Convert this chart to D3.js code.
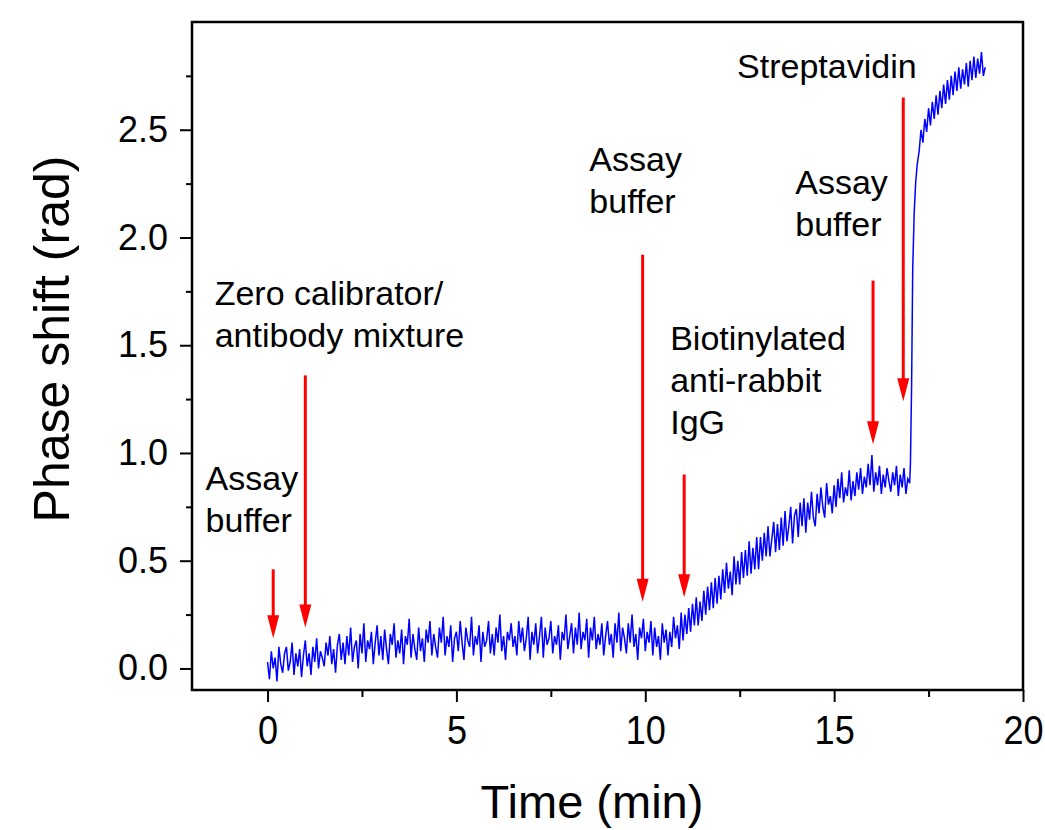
<!DOCTYPE html>
<html>
<head>
<meta charset="utf-8">
<script src="https://cdn.jsdelivr.net/npm/d3@7"></script>
<style>
  body { margin: 0; background: #fff; }
  text { font-family: "Liberation Sans", Arial, sans-serif; fill: #000; }
</style>
</head>
<body>
<div id="chart"></div>
<script>
const width = 1045
const height = 830
const margin = { left: 192, right: 22, top: 22, bottom: 140 }

// trace (time in min, phase in rad)
const time = [
  0.00, 0.05, 0.10, 0.15, 0.20, 0.25, 0.30, 0.35, 0.40, 0.45,
  0.50, 0.55, 0.60, 0.65, 0.70, 0.75, 0.80, 0.85, 0.90, 0.95,
  1.00, 1.05, 1.10, 1.15, 1.20, 1.25, 1.30, 1.35, 1.40, 1.45,
  1.50, 1.55, 1.60, 1.65, 1.70, 1.75, 1.80, 1.85, 1.90, 1.95,
  2.00, 2.05, 2.10, 2.15, 2.20, 2.25, 2.30, 2.35, 2.40, 2.45,
  2.50, 2.55, 2.60, 2.65, 2.70, 2.75, 2.80, 2.85, 2.90, 2.95,
  3.00, 3.05, 3.10, 3.15, 3.20, 3.25, 3.30, 3.35, 3.40, 3.45,
  3.50, 3.55, 3.60, 3.65, 3.70, 3.75, 3.80, 3.85, 3.90, 3.95,
  4.00, 4.05, 4.10, 4.15, 4.20, 4.25, 4.30, 4.35, 4.40, 4.45,
  4.50, 4.55, 4.60, 4.65, 4.70, 4.75, 4.80, 4.85, 4.90, 4.95,
  5.00, 5.05, 5.10, 5.15, 5.20, 5.25, 5.30, 5.35, 5.40, 5.45,
  5.50, 5.55, 5.60, 5.65, 5.70, 5.75, 5.80, 5.85, 5.90, 5.95,
  6.00, 6.05, 6.10, 6.15, 6.20, 6.25, 6.30, 6.35, 6.40, 6.45,
  6.50, 6.55, 6.60, 6.65, 6.70, 6.75, 6.80, 6.85, 6.90, 6.95,
  7.00, 7.05, 7.10, 7.15, 7.20, 7.25, 7.30, 7.35, 7.40, 7.45,
  7.50, 7.55, 7.60, 7.65, 7.70, 7.75, 7.80, 7.85, 7.90, 7.95,
  8.00, 8.05, 8.10, 8.15, 8.20, 8.25, 8.30, 8.35, 8.40, 8.45,
  8.50, 8.55, 8.60, 8.65, 8.70, 8.75, 8.80, 8.85, 8.90, 8.95,
  9.00, 9.05, 9.10, 9.15, 9.20, 9.25, 9.30, 9.35, 9.40, 9.45,
  9.50, 9.55, 9.60, 9.65, 9.70, 9.75, 9.80, 9.85, 9.90, 9.95,
  10.00, 10.05, 10.10, 10.15, 10.20, 10.25, 10.30, 10.35, 10.40, 10.45,
  10.50, 10.55, 10.60, 10.65, 10.70, 10.75, 10.80, 10.85, 10.90, 10.95,
  11.00, 11.05, 11.10, 11.15, 11.20, 11.25, 11.30, 11.35, 11.40, 11.45,
  11.50, 11.55, 11.60, 11.65, 11.70, 11.75, 11.80, 11.85, 11.90, 11.95,
  12.00, 12.05, 12.10, 12.15, 12.20, 12.25, 12.30, 12.35, 12.40, 12.45,
  12.50, 12.55, 12.60, 12.65, 12.70, 12.75, 12.80, 12.85, 12.90, 12.95,
  13.00, 13.05, 13.10, 13.15, 13.20, 13.25, 13.30, 13.35, 13.40, 13.45,
  13.50, 13.55, 13.60, 13.65, 13.70, 13.75, 13.80, 13.85, 13.90, 13.95,
  14.00, 14.05, 14.10, 14.15, 14.20, 14.25, 14.30, 14.35, 14.40, 14.45,
  14.50, 14.55, 14.60, 14.65, 14.70, 14.75, 14.80, 14.85, 14.90, 14.95,
  15.00, 15.05, 15.10, 15.15, 15.20, 15.25, 15.30, 15.35, 15.40, 15.45,
  15.50, 15.55, 15.60, 15.65, 15.70, 15.75, 15.80, 15.85, 15.90, 15.95,
  16.00, 16.05, 16.10, 16.15, 16.20, 16.25, 16.30, 16.35, 16.40, 16.45,
  16.50, 16.55, 16.60, 16.65, 16.70, 16.75, 16.80, 16.85, 16.90, 16.95,
  17.00, 17.02, 17.05, 17.08, 17.12, 17.16, 17.20, 17.25,
  17.30, 17.35, 17.40, 17.45, 17.50, 17.55, 17.60, 17.65, 17.70, 17.75,
  17.80, 17.85, 17.90, 17.95,
  18.00, 18.05, 18.10, 18.15, 18.20, 18.25, 18.30, 18.35, 18.40, 18.45,
  18.50, 18.55, 18.60, 18.65, 18.70, 18.75, 18.80, 18.85, 18.90, 18.95,
  19.00
]
const phase = [
  0.03, -0.05, 0.08, 0.00, 0.05, -0.06, 0.10, 0.02, -0.02, 0.07,
  0.10, -0.01, 0.03, 0.12, -0.03, 0.07, 0.01, 0.09, -0.04, 0.06,
  0.13, 0.01, 0.07, -0.03, 0.10, 0.03, 0.14, 0.00, 0.08, 0.05,
  0.01, 0.12, 0.06, 0.15, 0.02, 0.09, -0.02, 0.11, 0.16, 0.04,
  0.12, 0.02, 0.15, 0.06, 0.19, 0.03, 0.10, 0.13, 0.00, 0.16,
  0.07, 0.21, 0.03, 0.13, 0.09, 0.17, 0.02, 0.12, 0.20, 0.06,
  0.15, 0.04, 0.18, 0.09, 0.02, 0.16, 0.11, 0.21, 0.05, 0.13,
  0.07, 0.18, 0.02, 0.15, 0.11, 0.23, 0.05, 0.16, 0.09, 0.04,
  0.19, 0.08, 0.14, 0.03, 0.18, 0.12, 0.22, 0.06, 0.16, 0.10,
  0.05, 0.19, 0.12, 0.24, 0.06, 0.15, 0.10, 0.20, 0.03, 0.14,
  0.17, 0.08, 0.22, 0.12, 0.04, 0.19, 0.13, 0.10, 0.24, 0.06,
  0.15, 0.11, 0.20, 0.03, 0.17, 0.10, 0.13, 0.22, 0.07, 0.16,
  0.06, 0.19, 0.12, 0.25, 0.08, 0.15, 0.04, 0.17, 0.13, 0.21,
  0.10, 0.15, 0.06, 0.22, 0.12, 0.19, 0.08, 0.14, 0.24, 0.04,
  0.17, 0.11, 0.21, 0.07, 0.15, 0.24, 0.05, 0.19, 0.11, 0.14,
  0.22, 0.07, 0.15, 0.11, 0.20, 0.04, 0.17, 0.13, 0.25, 0.09,
  0.15, 0.21, 0.07, 0.19, 0.11, 0.26, 0.09, 0.17, 0.13, 0.23,
  0.05, 0.19, 0.13, 0.24, 0.09, 0.16, 0.11, 0.21, 0.06, 0.15,
  0.22, 0.11, 0.16, 0.05, 0.21, 0.12, 0.26, 0.08, 0.19, 0.14,
  0.07, 0.21, 0.12, 0.25, 0.10, 0.16, 0.04, 0.19, 0.14, 0.23,
  0.08, 0.17, 0.12, 0.22, 0.06, 0.19, 0.10, 0.15, 0.04, 0.21,
  0.12, 0.18, 0.06, 0.17, 0.10, 0.24, 0.14, 0.20, 0.09, 0.26,
  0.13, 0.25, 0.16, 0.28, 0.17, 0.30, 0.20, 0.33, 0.20, 0.31,
  0.22, 0.36, 0.25, 0.38, 0.27, 0.40, 0.28, 0.42, 0.30, 0.43,
  0.32, 0.46, 0.35, 0.49, 0.37, 0.45, 0.34, 0.52, 0.39, 0.50,
  0.39, 0.54, 0.42, 0.55, 0.43, 0.59, 0.44, 0.56, 0.46, 0.61,
  0.46, 0.61, 0.50, 0.63, 0.52, 0.66, 0.52, 0.60, 0.68, 0.54,
  0.67, 0.55, 0.70, 0.57, 0.73, 0.59, 0.66, 0.75, 0.58, 0.71,
  0.74, 0.61, 0.77, 0.66, 0.79, 0.63, 0.77, 0.69, 0.82, 0.70,
  0.66, 0.81, 0.72, 0.84, 0.75, 0.70, 0.86, 0.76, 0.80, 0.72,
  0.85, 0.75, 0.88, 0.79, 0.91, 0.77, 0.84, 0.80, 0.92, 0.78,
  0.87, 0.80, 0.91, 0.83, 0.93, 0.81, 0.89, 0.84, 0.95, 0.85,
  0.99, 0.82, 0.91, 0.85, 0.94, 0.81, 0.90, 0.84, 0.93, 0.87,
  0.82, 0.91, 0.85, 0.94, 0.80, 0.90, 0.84, 0.93, 0.81, 0.88,
  0.86, 0.95, 1.30, 1.85, 2.12, 2.26, 2.34, 2.40,
  2.50, 2.44, 2.55, 2.49, 2.60, 2.52, 2.63, 2.55, 2.66, 2.57,
  2.68, 2.60, 2.71, 2.62,
  2.73, 2.64, 2.75, 2.66, 2.77, 2.68, 2.79, 2.69, 2.78, 2.71,
  2.81, 2.70, 2.82, 2.73, 2.84, 2.74, 2.83, 2.76, 2.86, 2.75,
  2.79
]

// injection arrows: time, top of shaft, tip (rad)
const arrowTime = [0.15, 1.0, 9.93, 11.03, 16.03, 16.83]
const arrowTop = [0.46, 1.36, 1.92, 0.90, 1.80, 2.65]
const arrowTip = [0.14, 0.19, 0.31, 0.33, 1.04, 1.24]

// annotation text, anchored at left / first baseline
const noteLines = [
  ['Assay', 'buffer'],
  ['Zero calibrator/', 'antibody mixture'],
  ['Assay', 'buffer'],
  ['Biotinylated', 'anti-rabbit', 'IgG'],
  ['Assay', 'buffer'],
  ['Streptavidin'],
]
const noteTime = [-1.64, -1.40, 8.52, 10.66, 13.97, 12.43]
const noteValue = [0.83, 1.685, 2.31, 1.477, 2.204, 2.74]

const xTicks = [0, 5, 10, 15, 20]
const xMinor = [2.5, 7.5, 12.5, 17.5]
const yTicks = [0, 0.5, 1.0, 1.5, 2.0, 2.5]
const yMinor = [0.25, 0.75, 1.25, 1.75, 2.25, 2.75]

const innerW = width - margin.left - margin.right
const innerH = height - margin.top - margin.bottom

const x = d3.scaleLinear().domain([-2, 20]).range([0, innerW])
const y = d3.scaleLinear().domain([-0.1, 3.0]).range([innerH, 0])

const svg = d3.select('#chart')
  .append('svg')
    .attr('width', width)
    .attr('height', height)
  .append('g')
    .attr('transform', `translate(${margin.left},${margin.top})`)

// trace
const n = Math.min(time.length, phase.length)
const points = time.slice(0, n).map((t, i) => [t, phase[i]])
svg.append('path')
  .datum(points)
  .attr('fill', 'none')
  .attr('stroke', '#0000ff')
  .attr('stroke-width', 1.5)
  .attr('stroke-linejoin', 'miter')
  .attr('d', d3.line().x(d => x(d[0])).y(d => y(d[1])))

// arrows
const headLen = 23
const headHalf = 6
const arrows = svg.append('g')
  .selectAll('g')
  .data(arrowTime.map((t, i) => ({ t, top: arrowTop[i], tip: arrowTip[i] })))
  .join('g')
arrows.append('line')
  .attr('x1', d => x(d.t))
  .attr('x2', d => x(d.t))
  .attr('y1', d => y(d.top))
  .attr('y2', d => y(d.tip) - headLen + 2)
  .attr('stroke', '#ff0000')
  .attr('stroke-width', 3)
arrows.append('path')
  .attr('fill', '#ff0000')
  .attr('d', d => {
    const cx = x(d.t), ty = y(d.tip)
    return `M${cx - headHalf},${ty - headLen}L${cx + headHalf},${ty - headLen}L${cx},${ty}Z`
  })

// annotations
svg.append('g')
  .selectAll('text')
  .data(noteLines.map((lines, i) => ({ lines, t: noteTime[i], v: noteValue[i] })))
  .join('text')
    .attr('x', d => x(d.t))
    .attr('y', d => y(d.v))
    .style('font-size', '34px')
  .selectAll('tspan')
  .data(d => d.lines.map((s, j) => ({ s, j, x: x(d.t) })))
  .join('tspan')
    .attr('x', d => d.x)
    .attr('dy', d => d.j === 0 ? 0 : 42)
    .text(d => d.s)

// axes
const xAxis = svg.append('g')
  .attr('transform', `translate(0,${innerH})`)
  .call(d3.axisBottom(x).tickValues(xTicks).tickSize(12).tickPadding(10).tickFormat(d3.format('d')))
xAxis.select('.domain').remove()
xAxis.selectAll('line').attr('stroke-width', 2)
xAxis.selectAll('text')
  .style('font-size', '41px')
  .attr('transform', 'scale(0.88,1)')
  .attr('dy', '0.78em')

const xAxisMinor = svg.append('g')
  .attr('transform', `translate(0,${innerH})`)
  .call(d3.axisBottom(x).tickValues(xMinor).tickSize(7).tickFormat(''))
xAxisMinor.select('.domain').remove()
xAxisMinor.selectAll('line').attr('stroke-width', 2)

const yAxis = svg.append('g')
  .call(d3.axisLeft(y).tickValues(yTicks).tickSize(12).tickPadding(12).tickFormat(d3.format('.1f')))
yAxis.select('.domain').remove()
yAxis.selectAll('line').attr('stroke-width', 2)
yAxis.selectAll('text').style('font-size', '36px')

const yAxisMinor = svg.append('g')
  .call(d3.axisLeft(y).tickValues(yMinor).tickSize(6).tickFormat(''))
yAxisMinor.select('.domain').remove()
yAxisMinor.selectAll('line').attr('stroke-width', 2)

// frame
svg.append('rect')
  .attr('x', 0)
  .attr('y', 0)
  .attr('width', innerW)
  .attr('height', innerH)
  .attr('fill', 'none')
  .attr('stroke', '#000')
  .attr('stroke-width', 2.5)

// axis titles
svg.append('text')
  .attr('x', 400)
  .attr('y', 796)
  .attr('text-anchor', 'middle')
  .style('font-size', '47px')
  .text('Time (min)')

svg.append('text')
  .attr('transform', `translate(${52 - margin.left + 17},${339 - margin.top}) rotate(-90)`)
  .attr('text-anchor', 'middle')
  .style('font-size', '50px')
  .text('Phase shift (rad)')
</script>
</body>
</html>
